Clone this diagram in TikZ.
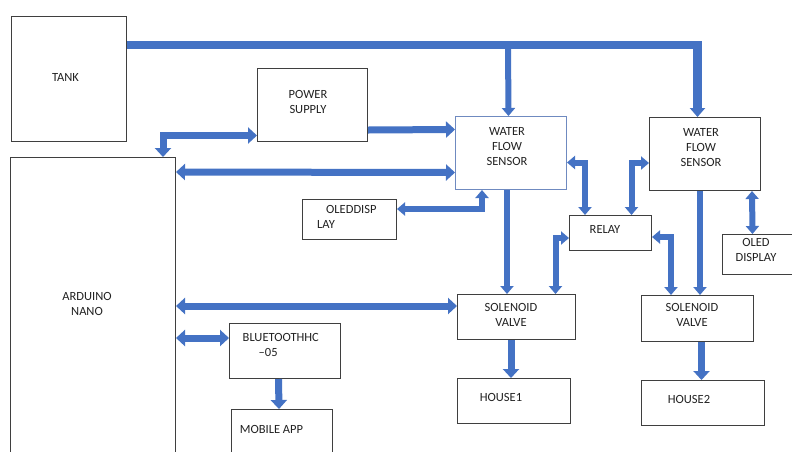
\documentclass[tikz,border=0pt]{standalone}
\usepackage{fontspec}
\setmainfont{Carlito}
\usetikzlibrary{arrows.meta}
\definecolor{arrblue}{HTML}{4472C4}
\definecolor{boxline}{HTML}{3F3F3F}
\definecolor{boxblue}{HTML}{6F8AC0}
\definecolor{txt}{HTML}{222222}
\newcommand{\lbfont}{\fontsize{12.5pt}{15pt}\selectfont}
\tikzset{
  box/.style={draw=boxline, line width=1pt, anchor=north west, inner sep=0pt, fill=white},
  lbl/.style={font=\lbfont, text=txt, align=center, inner sep=0pt},
  tipA/.tip={Triangle[width=16pt,length=9pt]},
  tipB/.tip={Triangle[width=13pt,length=8pt]},
  flow/.style={draw=arrblue, line width=7pt, -tipA},
  flowdd/.style={draw=arrblue, line width=7pt, tipA-tipA},
  thin/.style={draw=arrblue, line width=6pt, -tipB},
  thindd/.style={draw=arrblue, line width=6pt, tipB-tipB},
}
\begin{document}
\begin{tikzpicture}[x=1pt,y=-1pt,line join=miter]
\useasboundingbox (0,0) rectangle (792,451);
\clip (0,0) rectangle (792,451);
\fill[white] (0,0) rectangle (792,451);

% boxes
\node[box, minimum width=115pt, minimum height=125pt] (tank) at (11,16) {};
\node[box, minimum width=165pt, minimum height=320pt] (ard) at (10,157) {};
\node[box, minimum width=110pt, minimum height=73pt] (ps) at (257,68) {};
\node[box, draw=boxblue, minimum width=111pt, minimum height=73pt] (wfs1) at (455,116) {};
\node[box, minimum width=111pt, minimum height=73pt] (wfs2) at (649,117) {};
\node[box, minimum width=94pt, minimum height=40pt] (oled1) at (302,199) {};
\node[box, minimum width=82pt, minimum height=35pt] (relay) at (569,215) {};
\node[box, minimum width=90pt, minimum height=40pt] (oled2) at (722,234) {};
\node[box, minimum width=118pt, minimum height=45pt] (sol1) at (457,294) {};
\node[box, minimum width=112pt, minimum height=46pt] (sol2) at (641,295) {};
\node[box, minimum width=113pt, minimum height=45pt] (h1) at (457,378) {};
\node[box, minimum width=123pt, minimum height=45pt] (h2) at (641,380) {};
\node[box, minimum width=111pt, minimum height=55pt] (bt) at (229,323) {};
\node[box, minimum width=101pt, minimum height=60pt] (app) at (231,409) {};

% labels
\node[lbl] (tanktxt) at (65.5,77) {TANK};
\node[lbl] (ardtxt) at (87,303.5) {ARDUINO\\NANO};
\node[lbl] (pstxt) at (308,102) {POWER\\SUPPLY};
\node[lbl] (wfs1txt) at (507,147) {WATER\\FLOW\\SENSOR};
\node[lbl] (wfs2txt) at (701,148) {WATER\\FLOW\\SENSOR};
\node[lbl, align=left, anchor=west] (oled1txt) at (317,216.5) {\hspace*{9pt}OLEDDISP\\LAY};
\node[lbl] (relaytxt) at (605,229) {RELAY};
\node[lbl] (oled2txt) at (756,250) {OLED\\DISPLAY};
\node[lbl] (sol1txt) at (511,315) {SOLENOID\\VALVE};
\node[lbl] (sol2txt) at (692,315) {SOLENOID\\VALVE};
\node[lbl] (h1txt) at (501,397) {HOUSE1};
\node[lbl] (h2txt) at (689,399) {HOUSE2};
\node[lbl, align=left, anchor=west] (bttxt) at (242.5,345) {BLUETOOTHHC\\\hspace*{16pt}–05};
\node[lbl] (apptxt) at (271.5,429) {MOBILE APP};

% tank pipe
\coordinate (j1) at (508,45);
\draw[draw=arrblue, line width=8.5pt, -{Triangle[width=15pt,length=9pt]}]
  ([yshift=-29pt]tank.north east) -| ([xshift=-7.5pt]wfs2.north);
\draw[thin] (j1) -- ([xshift=-2.5pt]wfs1.north);

% power supply to sensor
\draw[flow] ([yshift=12pt]ps.south east) -- ([yshift=23.5pt]wfs1.west);
% arduino <-> power supply
\draw[flowdd] ([xshift=153pt]ard.north west) |- ([yshift=6.5pt]ps.south west);
% arduino <-> sensor 1
\draw[flowdd] ([yshift=-15pt]ard.north east) -- ([yshift=-19.5pt]wfs1.west);
% arduino <-> solenoid 1
\draw[flowdd] ([yshift=-149pt]ard.north east) -- ([yshift=-12pt]sol1.north west);
% arduino <-> bluetooth
\draw[flowdd] ([yshift=-181pt]ard.north east) -- ([yshift=-15pt]bt.north west);
% bluetooth -> app
\draw[flow] ([xshift=-6.5pt]bt.south) -- ([xshift=-3pt]app.north);
% sensor1 <-> oled1
\draw[thindd] ([xshift=-29pt]wfs1.south) |- ([yshift=10.5pt]oled1.east);
% sensor1 -> solenoid1
\draw[thin] ([xshift=-4pt]wfs1.south) -- ([xshift=-9.5pt]sol1.north);
% sensor1 <-> relay
\draw[thindd] ([yshift=-9.5pt]wfs1.east) -| ([xshift=-25.5pt]relay.north);
% relay <-> sensor2
\draw[thindd] ([xshift=21pt]relay.north) |- ([yshift=-9pt]wfs2.west);
% relay <-> solenoid1
\draw[thindd] ([yshift=-5pt]relay.west) -| ([xshift=39pt]sol1.north);
% relay <-> solenoid2
\draw[thindd] ([yshift=-4pt]relay.east) -| ([xshift=-26.5pt]sol2.north);
% sensor2 -> solenoid2
\draw[thin] ([xshift=-5pt]wfs2.south) -- ([xshift=2.5pt]sol2.north);
% sensor2 <-> oled2
\draw[thindd] ([xshift=47pt]wfs2.south) -- ([xshift=-15pt]oled2.north);
% solenoid -> houses
\draw[flow] ([xshift=-5.5pt]sol1.south) -- ([xshift=-3pt]h1.north);
\draw[flow] ([xshift=4pt]sol2.south) -- ([xshift=-1.5pt]h2.north);
\end{tikzpicture}
\end{document}
